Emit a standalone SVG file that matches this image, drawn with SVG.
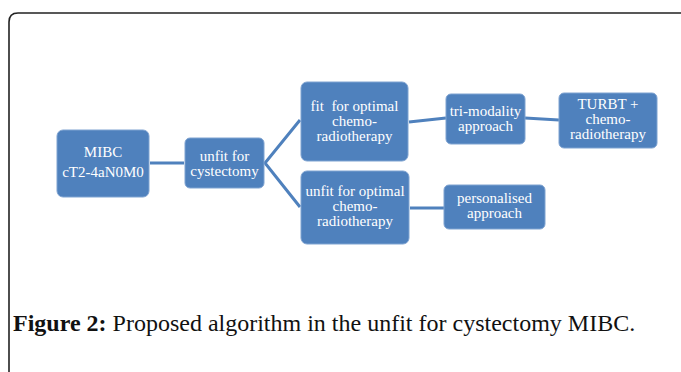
<svg xmlns="http://www.w3.org/2000/svg" width="681" height="372" viewBox="0 0 681 372">
<style>
.box{fill:#4F81BD;stroke:#7fa3d1;stroke-width:1}
.t{font-family:"Liberation Serif","Times New Roman",serif;font-size:15px;fill:#ffffff;text-anchor:middle;white-space:pre}
.c{stroke:#4F81BD;stroke-width:3;fill:none}
.cap{font-family:"Liberation Serif","Times New Roman",serif;font-size:24px;fill:#111}
</style>
<rect width="681" height="372" fill="#ffffff"/>
<path d="M9,372 V22 Q9,13 18,13 H681" fill="none" stroke="#222" stroke-width="1.6"/>
<g id="connectors">
<line class="c" x1="150" y1="163" x2="184" y2="163"/>
<polyline class="c" points="300,120 265,163 300,207"/>
<line class="c" x1="409" y1="122" x2="446" y2="118"/>
<line class="c" x1="525" y1="118" x2="559" y2="120"/>
<line class="c" x1="410" y1="208" x2="444" y2="208"/>
</g>
<g id="mibc">
<rect class="box" x="57" y="130" width="92" height="67" rx="6"/>
<text class="t" x="103" y="157">MIBC</text>
<text class="t" x="103" y="177">cT2-4aN0M0</text>
</g>
<g id="unfit-cystectomy">
<rect class="box" x="185" y="138" width="79" height="50" rx="5"/>
<text class="t" x="224.5" y="161">unfit for</text>
<text class="t" x="224.5" y="176">cystectomy</text>
</g>
<g id="fit-crt">
<rect class="box" x="301" y="82" width="107" height="79" rx="6"/>
<text class="t" x="354.5" y="111" xml:space="preserve">fit  for optimal</text>
<text class="t" x="354.5" y="126">chemo-</text>
<text class="t" x="354.5" y="141">radiotherapy</text>
</g>
<g id="unfit-crt">
<rect class="box" x="301" y="171" width="108" height="73" rx="6"/>
<text class="t" x="355" y="196">unfit for optimal</text>
<text class="t" x="355" y="211">chemo-</text>
<text class="t" x="355" y="226">radiotherapy</text>
</g>
<g id="tri-modality">
<rect class="box" x="446" y="94" width="79" height="50" rx="5"/>
<text class="t" x="485.5" y="116">tri-modality</text>
<text class="t" x="485.5" y="131">approach</text>
</g>
<g id="turbt">
<rect class="box" x="559" y="93" width="98" height="55" rx="5"/>
<text class="t" x="608" y="109">TURBT +</text>
<text class="t" x="608" y="124">chemo-</text>
<text class="t" x="608" y="139">radiotherapy</text>
</g>
<g id="personalised">
<rect class="box" x="444" y="185" width="101" height="44" rx="5"/>
<text class="t" x="494.5" y="203">personalised</text>
<text class="t" x="494.5" y="218">approach</text>
</g>
<text class="cap" x="13" y="331"><tspan font-weight="bold">Figure 2:</tspan> Proposed algorithm in the unfit for cystectomy MIBC.</text>
</svg>
